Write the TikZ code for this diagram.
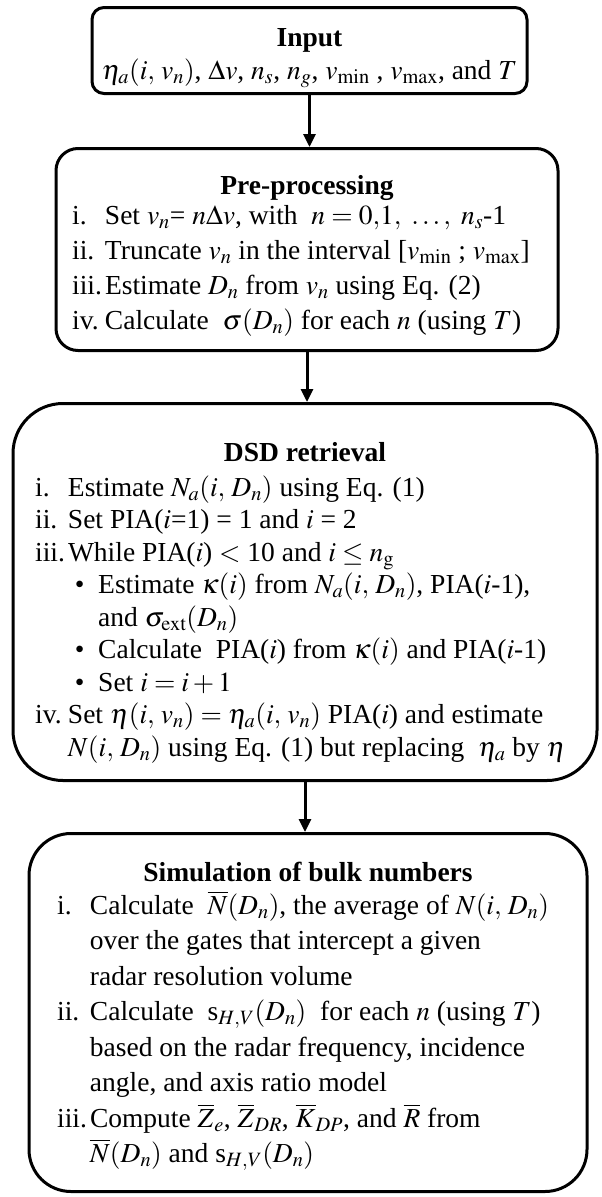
\documentclass[tikz,border=0pt]{standalone}
\usepackage{mathptmx}
\usepackage{fontspec}
\setmainfont{Liberation Serif}
\usetikzlibrary{arrows.meta}
\newcommand{\bx}[1]{\overline{#1}}
\begin{document}
\begin{tikzpicture}[x=1pt,y=-1pt,
  box/.style={draw, line width=3pt, inner sep=0pt},
  ttl/.style={inner sep=0pt, anchor=base, font=\fontsize{27.5}{33}\selectfont\bfseries},
  lst/.style={inner sep=0pt, anchor=base west, font=\fontsize{27.5}{#1}\selectfont},
  conn/.style={line width=3pt, -{Triangle[length=13pt,width=12pt]}}]
\useasboundingbox (0,0) rectangle (602,1197);
% boxes
\node[box, rounded corners=12pt, minimum width=435pt, minimum height=86pt, anchor=north] (input) at (309.5,6) {};
\node[box, rounded corners=22pt, minimum width=502pt, minimum height=202pt, anchor=north] (pre) at (307,147) {};
\node[box, rounded corners=50pt, minimum width=584pt, minimum height=377pt, anchor=north] (dsd) at (305,402) {};
\node[box, rounded corners=42pt, minimum width=558pt, minimum height=358pt, anchor=north] (sim) at (308,832) {};
% input
\node[ttl] (inputH) at (309.5,46) {Input};
\node[inner sep=0pt, anchor=base, font=\fontsize{27.5}{33}\selectfont] (inputL) at (309.5,79)
  {$\eta_a(i,\,v_n)$, $\Delta v$, $n_s$, $n_g$, $v_{\min}$ , $v_{\max}$, and $T$};
% pre-processing
\node[ttl] (preH) at (307,194) {Pre-processing};
\node[lst=35] (preL) at (72,224) {\begin{tabular}[t]{@{}l@{\hspace{3pt}}l@{}}
i. & Set $v_n$= $n\Delta v$, with \ $n = 0{,}1,\ \ldots,\ n_s$-1\\
ii. & Truncate $v_n$ in the interval [$v_{\min}$ ; $v_{\max}$]\\
iii. & Estimate $D_n$ from $v_n$ using Eq. (2)\\
iv. & Calculate \ $\sigma(D_n)$ for each $n$ (using $T$)
\end{tabular}};
% DSD
\node[ttl] (dsdH) at (305,461) {DSD retrieval};
\node[lst=32.5] (dsdL) at (35,496) {\begin{tabular}[t]{@{}l@{\hspace{3pt}}l@{}}
i. & Estimate $N_a(i,\,D_n)$ using Eq. (1)\\
ii. & Set PIA($i$=1) = 1 and $i$ = 2\\
iii. & While PIA($i$) $<$ 10 and $i \le n_{\mathrm{g}}$\\
 & \ \textbullet\ \ Estimate $\kappa(i)$ from $N_a(i,\,D_n)$, PIA($i$-1),\\
 & \ \phantom{\textbullet}\ \ and $\sigma_{\mathrm{ext}}(D_n)$\\
 & \ \textbullet\ \ Calculate \ PIA($i$) from $\kappa(i)$ and PIA($i$-1)\\
 & \ \textbullet\ \ Set $i = i + 1$\\
iv. & Set $\eta(i,\,v_n) = \eta_a(i,\,v_n)$ PIA($i$) and estimate\\
 & $N(i,\,D_n)$ using Eq. (1) but replacing \ $\eta_a$ by $\eta$
\end{tabular}};
% simulation
\node[ttl] (simH) at (308,881) {Simulation of bulk numbers};
\node[lst=35.5] (simL) at (57,914) {\begin{tabular}[t]{@{}l@{\hspace{3pt}}l@{}}
i. & Calculate \ $\bx{N}(D_n)$, the average of $N(i,\,D_n)$\\
 & over the gates that intercept a given\\
 & radar resolution volume\\
ii. & Calculate \ s$_{H,V}(D_n)$ \ for each $n$ (using $T$)\\
 & based on the radar frequency, incidence\\
 & angle, and axis ratio model\\
iii. & Compute $\bx{Z}_e$, $\bx{Z}_{DR}$, $\bx{K}_{DP}$, and $\bx{R}$ from\\
 & $\bx{N}(D_n)$ and s$_{H,V}(D_n)$
\end{tabular}};
% connectors
\draw[conn] (input.south) -- (input.south |- pre.north);
\draw[conn] (pre.south) -- (pre.south |- dsd.north);
\draw[conn] (dsd.south) -- (dsd.south |- sim.north);
\end{tikzpicture}
\end{document}
